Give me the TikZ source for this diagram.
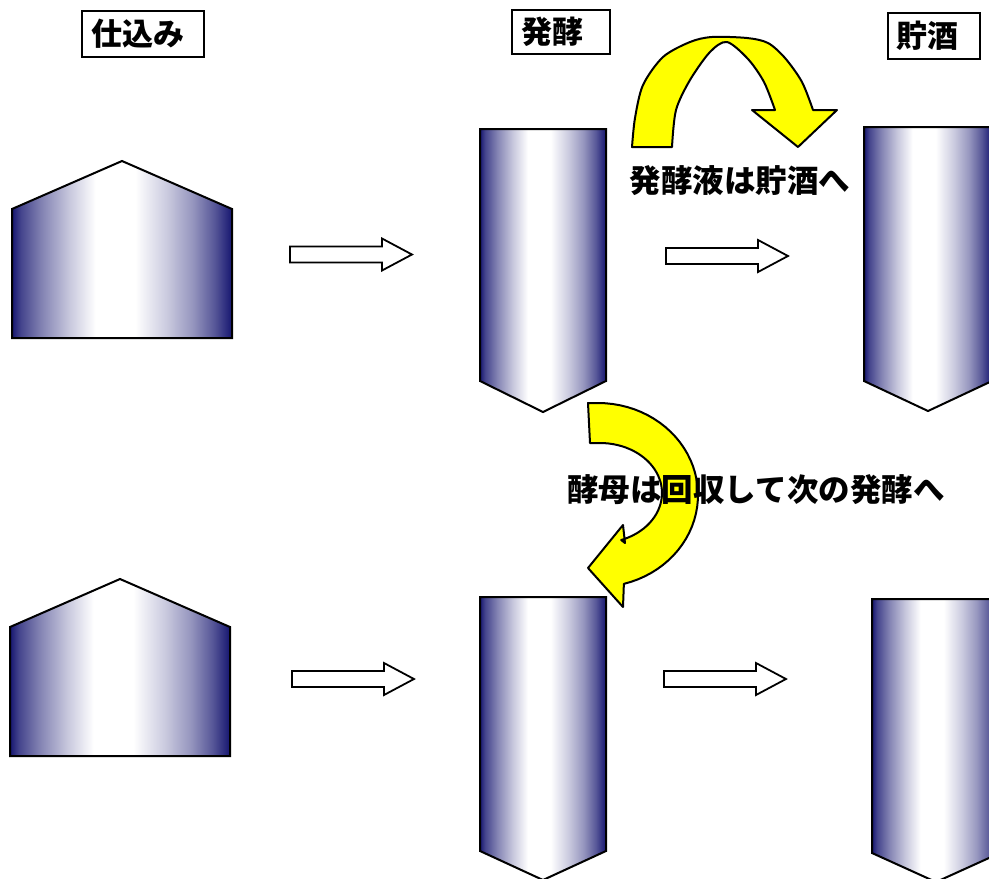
\documentclass[tikz,border=0pt]{standalone}
\usepackage{fontspec}
\newfontfamily\cjk{Noto Sans CJK JP}
\definecolor{tnavy}{RGB}{22,22,112}
\definecolor{ayellow}{RGB}{255,255,0}
\pgfdeclarehorizontalshading{tankshade}{100bp}{color(0bp)=(tnavy); color(25bp)=(tnavy); color(27bp)=(tnavy!80!white); color(32bp)=(tnavy!52!white); color(38bp)=(tnavy!24!white); color(44bp)=(white); color(53bp)=(white); color(60bp)=(tnavy!22!white); color(66bp)=(tnavy!45!white); color(71bp)=(tnavy!72!white); color(75bp)=(tnavy); color(100bp)=(tnavy)}
\tikzset{
  tank/.style={draw=black, line width=2pt, shading=tankshade, line join=miter},
  hdrbox/.style={draw=black, line width=1.5pt},
  hdrtext/.style={anchor=west, inner sep=0pt, font=\cjk\bfseries\fontsize{31}{32}\selectfont},
  lbl/.style={inner sep=0pt, font=\cjk\bfseries\fontsize{31.5}{32}\selectfont},
  bigarrow/.style={draw=black, line width=2pt, fill=ayellow, line join=round},
  hollow/.pic={
    \draw[line width=1.8pt, fill=white]
      (0,-8) -- (92,-8) -- (92,-16) -- (122,0) -- (92,16) -- (92,8) -- (0,8) -- cycle;
  }
}
\begin{document}
\begin{tikzpicture}[x=1pt,y=-1pt]
\useasboundingbox (0,0) rectangle (989,879);
\clip (0,0) rectangle (989,879);

% headers
\draw[hdrbox] (82,11) rectangle (204,57);
\node[hdrtext] (h1) at (91,34) {仕込み};
\draw[hdrbox] (512,10) rectangle (610,54);
\node[hdrtext] (h2) at (521,32) {発酵};
\draw[hdrbox] (888,13) rectangle (980,59);
\node[hdrtext] (h3) at (896,36) {貯酒};

% tanks, top row
\path[tank] (12,338) -- (12,209) -- (122,161) -- (232,209) -- (232,338) -- cycle;
\path[tank] (480,129) -- (606,129) -- (606,381) -- (543,412) -- (480,381) -- cycle;
\path[tank] (864,127) -- (992,127) -- (992,381) -- (928,411) -- (864,381) -- cycle;
% tanks, bottom row
\path[tank] (10,756) -- (10,627) -- (120,579) -- (230,627) -- (230,756) -- cycle;
\path[tank] (480,597) -- (606,597) -- (606,851) -- (543,880) -- (480,851) -- cycle;
\path[tank] (872,599) -- (1000,599) -- (1000,853) -- (936,882) -- (872,853) -- cycle;

% hollow arrows
\pic at (290,254.5) {hollow};
\pic at (666,256) {hollow};
\pic at (292,679) {hollow};
\pic at (664,679) {hollow};

% top curved arrow
\path[bigarrow] (632,147)
  -- plot[smooth] coordinates {(632,147) (635,118) (643,85) (663,57) (690,42) (712,37) (747,38) (768,43) (785,58) (802,82) (813,110)}
  -- (837,110) -- (798,147) -- (752,110) -- (775,110)
  -- plot[smooth] coordinates {(775,110) (764,82) (748,59) (727,42) (710,52) (690,80) (676,110) (672,147)}
  -- cycle;

% bottom curved arrow
\path[bigarrow] (588,403) -- (598,403)
  -- plot[domain=-90:75, samples=40] ({598+100*cos(\x)},{495+92*sin(\x)})
  -- (623,607) -- (588,568) -- (623,525) -- (625,543)
  -- plot[domain=70:-90, samples=40] ({600+62*cos(\x)},{493+50*sin(\x)})
  -- (590,443) -- cycle;

% labels
\node[lbl] (l1) at (740,181) {発酵液は貯酒へ};
\node[lbl] (l2) at (756,490) {酵母は回収して次の発酵へ};
\end{tikzpicture}
\end{document}
